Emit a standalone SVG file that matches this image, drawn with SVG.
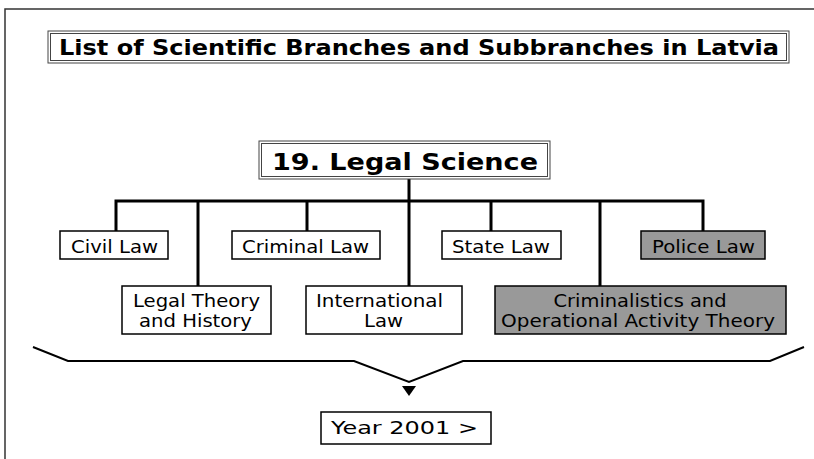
<svg xmlns="http://www.w3.org/2000/svg" width="814" height="459" viewBox="0 0 814 459">
<defs>
<style>
.frame{fill:none;stroke:#333;stroke-width:1.5}
.dbl{fill:#fff;stroke:#444;stroke-width:1}
.box{fill:#fff;stroke:#000;stroke-width:1.5}
.gray{fill:#999;stroke:#000;stroke-width:1.5}
.conn{fill:none;stroke:#000;stroke-width:3}
.brk{fill:none;stroke:#000;stroke-width:2}
.t{font-family:"DejaVu Sans",Verdana,sans-serif;font-size:17px;fill:#000;text-anchor:middle}
.tb{font-family:"DejaVu Sans",Verdana,sans-serif;font-weight:bold;fill:#000;text-anchor:middle}
</style>
</defs>
<rect width="814" height="459" fill="#fff"/>
<path class="frame" d="M5,459 V9 H814"/>
<g id="title">
<rect class="dbl" x="48" y="31" width="741" height="32"/>
<rect class="dbl" x="50.5" y="33.5" width="736" height="27"/>
<text class="tb" x="419" y="55" font-size="20.8" textLength="720" lengthAdjust="spacingAndGlyphs">List of Scientific Branches and Subbranches in Latvia</text>
</g>
<g id="connectors">
<path class="conn" d="M409,179 V286 M116,231 V201 H703 V231 M198,201 V286 M307,201 V231 M491,201 V231 M600,201 V286"/>
<path class="brk" d="M33,347 L68,361 H354 L409,382 L463,361 H770 L804,347"/>
<path d="M402,386 H416 L409,396 Z" fill="#000"/>
</g>
<g id="legal-science">
<rect class="dbl" x="259" y="141" width="291" height="38"/>
<rect class="dbl" x="261.5" y="143.5" width="286" height="33"/>
<text class="tb" x="405" y="170" font-size="23.5" textLength="266" lengthAdjust="spacingAndGlyphs">19. Legal Science</text>
</g>
<g id="civil-law">
<rect class="box" x="60" y="231" width="108" height="28"/>
<text class="t" x="114.5" y="253" textLength="87" lengthAdjust="spacingAndGlyphs">Civil Law</text>
</g>
<g id="criminal-law">
<rect class="box" x="232" y="231" width="148" height="28"/>
<text class="t" x="305.5" y="253" textLength="127" lengthAdjust="spacingAndGlyphs">Criminal Law</text>
</g>
<g id="state-law">
<rect class="box" x="442" y="231" width="119" height="28"/>
<text class="t" x="501" y="253" textLength="98" lengthAdjust="spacingAndGlyphs">State Law</text>
</g>
<g id="police-law">
<rect class="gray" x="641" y="231" width="124" height="28"/>
<text class="t" x="703.5" y="253" textLength="103" lengthAdjust="spacingAndGlyphs">Police Law</text>
</g>
<g id="legal-theory">
<rect class="box" x="122" y="286" width="149" height="48"/>
<text class="t" x="196.5" y="307" textLength="127" lengthAdjust="spacingAndGlyphs">Legal Theory</text>
<text class="t" x="195.5" y="327" textLength="113" lengthAdjust="spacingAndGlyphs">and History</text>
</g>
<g id="international-law">
<rect class="box" x="306" y="286" width="156" height="48"/>
<text class="t" x="379.5" y="307" textLength="127" lengthAdjust="spacingAndGlyphs">International</text>
<text class="t" x="383.5" y="327" textLength="39" lengthAdjust="spacingAndGlyphs">Law</text>
</g>
<g id="criminalistics">
<rect class="gray" x="495" y="286" width="291" height="48"/>
<text class="t" x="640" y="307" textLength="173" lengthAdjust="spacingAndGlyphs">Criminalistics and</text>
<text class="t" x="638" y="327" textLength="274" lengthAdjust="spacingAndGlyphs">Operational Activity Theory</text>
</g>
<g id="year">
<rect class="box" x="321" y="412" width="170" height="32"/>
<text class="t" x="404.5" y="434" font-size="20.5" textLength="147" lengthAdjust="spacingAndGlyphs">Year 2001 &gt;</text>
</g>
</svg>
